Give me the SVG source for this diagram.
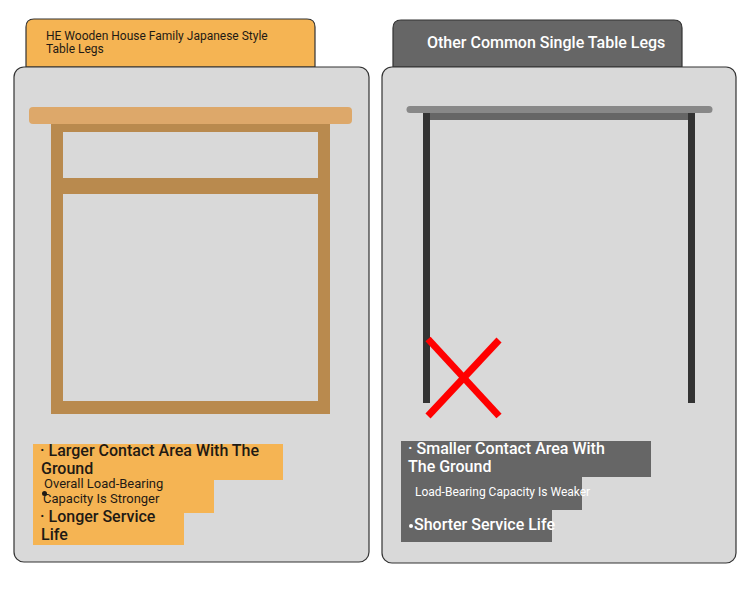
<svg xmlns="http://www.w3.org/2000/svg" width="750" height="590" viewBox="0 0 750 590">
<style>
.panel{fill:#D9D9D9;stroke:#333;stroke-width:1.2}
.t{font-family:Roboto,"Liberation Sans",sans-serif}
.big{font-size:16px;font-weight:500}
.dark{fill:#1f1a14}
.wht{fill:#ffffff}
.wood{fill:#B98A4E}
</style>
<rect width="750" height="590" fill="#ffffff"/>
<g id="left-tab">
<path d="M26,67 V27 Q26,19 34,19 H307 Q315,19 315,27 V67 Z" fill="#F5B453" stroke="#333" stroke-width="1.2"/>
<text class="t dark" x="46" y="40" font-size="12">HE Wooden House Family Japanese Style</text>
<text class="t dark" x="46" y="53" font-size="12">Table Legs</text>
</g>
<g id="right-tab">
<path d="M393,67 V28 Q393,20 401,20 H674 Q682,20 682,28 V67 Z" fill="#666666" stroke="#333" stroke-width="1.2"/>
<text class="t wht big" x="427" y="48">Other Common Single Table Legs</text>
</g>
<g id="left-panel">
<rect class="panel" x="14" y="67" width="355" height="495" rx="10"/>
</g>
<g id="right-panel">
<rect class="panel" x="382" y="67" width="354" height="496" rx="10"/>
</g>
<g id="wooden-table">
<rect class="wood" x="51" y="124" width="12" height="290"/>
<rect class="wood" x="318" y="124" width="12" height="290"/>
<rect class="wood" x="51" y="124" width="279" height="8"/>
<rect class="wood" x="51" y="178" width="279" height="16"/>
<rect class="wood" x="51" y="401" width="279" height="13"/>
<rect x="29" y="107" width="323" height="17" rx="4" fill="#DDA86A"/>
</g>
<g id="single-table">
<rect x="430" y="113" width="258" height="7" fill="#666666"/>
<rect x="423" y="113" width="7" height="290" fill="#333333"/>
<rect x="688" y="113" width="7" height="290" fill="#333333"/>
<line x1="410" y1="109.5" x2="709" y2="109.5" stroke="#888888" stroke-width="7" stroke-linecap="round"/>
</g>
<g id="red-x" stroke="#FF0000" stroke-width="7">
<line x1="428" y1="339" x2="499" y2="416"/>
<line x1="499" y1="340" x2="428" y2="416"/>
</g>
<g id="left-benefits">
<rect x="33" y="444" width="250" height="36" fill="#F5B453"/>
<rect x="33" y="480" width="181" height="33" fill="#F5B453"/>
<rect x="33" y="513" width="151" height="32" fill="#F5B453"/>
<text class="t dark big" x="40" y="456">· Larger Contact Area With The</text>
<text class="t dark big" x="41" y="474">Ground</text>
<text class="t dark" x="44" y="488" font-size="13">Overall Load-Bearing</text>
<text class="t dark" x="43" y="503" font-size="13">Capacity Is Stronger</text>
<circle cx="44.5" cy="493.5" r="2.5" fill="#1f1a14"/>
<text class="t dark big" x="40" y="522">· Longer Service</text>
<text class="t dark big" x="41" y="540">Life</text>
</g>
<g id="right-drawbacks">
<rect x="401" y="441" width="250" height="36" fill="#666666"/>
<rect x="401" y="477" width="181" height="33" fill="#666666"/>
<rect x="401" y="510" width="151" height="32" fill="#666666"/>
<text class="t wht big" x="408" y="454">· Smaller Contact Area With</text>
<text class="t wht big" x="408" y="472">The Ground</text>
<text class="t wht" x="415" y="496" font-size="12">Load-Bearing Capacity Is Weaker</text>
<circle cx="411" cy="526" r="2" fill="#ffffff"/>
<text class="t wht big" x="414" y="530">Shorter Service Life</text>
</g>
</svg>
